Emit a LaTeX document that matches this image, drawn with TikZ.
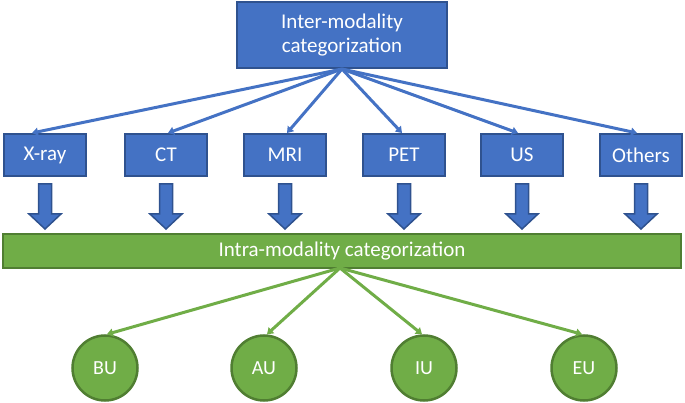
\documentclass[tikz,border=0pt]{standalone}
\usepackage{fontspec}
\setmainfont{Carlito}
\usetikzlibrary{arrows.meta,calc}
\definecolor{bfill}{HTML}{4472C4}
\definecolor{bdraw}{HTML}{2F528F}
\definecolor{gfill}{HTML}{70AD47}
\definecolor{gdraw}{HTML}{507E32}
\begin{document}
\begin{tikzpicture}[x=1pt,y=-1pt,
  bbox/.style={draw=bdraw,fill=bfill,line width=2pt,text=white,inner sep=0pt,
    font=\fontsize{21}{24.5}\selectfont,align=center},
  gbox/.style={draw=gdraw,fill=gfill,line width=2pt,text=white,inner sep=0pt,
    font=\fontsize{21}{24.5}\selectfont},
  gcirc/.style={circle,draw=gdraw,fill=gfill,line width=2.5pt,text=white,inner sep=0pt,
    minimum size=65pt,font=\fontsize{20}{24}\selectfont},
  barrow/.style={draw=bdraw,fill=bfill,line width=1.5pt,line join=miter},
  bline/.style={draw=bfill,line width=3pt,-{Triangle[width=8pt,length=6pt]}},
  gline/.style={draw=gfill,line width=3pt,-{Triangle[width=8pt,length=6pt]}}]
\useasboundingbox (0,0) rectangle (685,403);
% top node
\node[bbox,minimum width=210pt,minimum height=66pt] (top) at (342,35) {Inter-modality\\categorization};
% modality boxes
\foreach \n/\x/\t in {xray/45/X-ray, ct/166/CT, mri/285/MRI, pet/404/PET, us/522/US, oth/641/Others}{
  \node[bbox,minimum width=82pt,minimum height=42pt] (\n) at (\x,155) {\t};
}
% block arrows
\foreach \n in {xray,ct,mri,pet,us,oth}{
  \path[barrow] ($(\n.south)+(-6.5,7)$) -- ($(\n.south)+(6.5,7)$) -- ($(\n.south)+(6.5,37)$)
    -- ($(\n.south)+(16,37)$) -- ($(\n.south)+(0,52)$) -- ($(\n.south)+(-16,37)$)
    -- ($(\n.south)+(-6.5,37)$) -- cycle;
}
% connectors from top
\draw[bline] (top.south) -- ($(xray.north)+(-13,0)$);
\draw[bline] (top.south) -- ($(ct.north)+(2,0)$);
\draw[bline] (top.south) -- ($(mri.north)+(2,0)$);
\draw[bline] (top.south) -- ($(pet.north)+(-2,0)$);
\draw[bline] (top.south) -- ($(us.north)+(-4,0)$);
\draw[bline] (top.south) -- ($(oth.north)+(-4,0)$);
% green bar
\node[gbox,minimum width=678pt,minimum height=34pt] (bar) at (342,251) {Intra-modality categorization};
% circles
\node[gcirc] (bu) at (105,368) {BU};
\node[gcirc] (au) at (264,368) {AU};
\node[gcirc] (iu) at (424,368) {IU};
\node[gcirc] (eu) at (584,368) {EU};
% connectors from bar
\draw[gline] ($(bar.south)+(-2,-1)$) -- ($(bu.north)+(2,0)$);
\draw[gline] ($(bar.south)+(-2,-1)$) -- ($(au.north)+(3,0)$);
\draw[gline] ($(bar.south)+(-2,-1)$) -- ($(iu.north)+(-2,0)$);
\draw[gline] ($(bar.south)+(-2,-1)$) -- ($(eu.north)+(-2,0)$);
\end{tikzpicture}
\end{document}
